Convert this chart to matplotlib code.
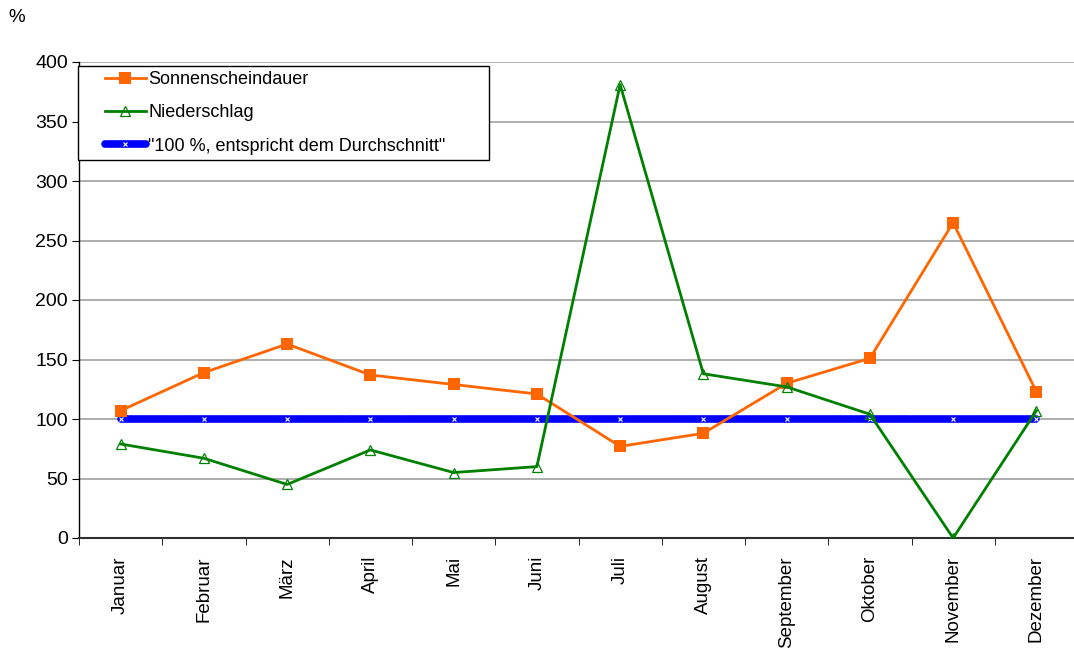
import numpy as np
import matplotlib.pyplot as plt
from matplotlib.ticker import FixedLocator
from matplotlib.legend_handler import HandlerLine2D

plt.rcParams['font.family'] = ['Liberation Sans', 'DejaVu Sans']

# --- Data ---
months = ["Januar", "Februar", "März", "April", "Mai", "Juni", "Juli",
          "August", "September", "Oktober", "November", "Dezember"]
sonne = [107, 139, 163, 137, 129, 121, 77, 88, 130, 151, 265, 123]
niederschlag = [79, 67, 45, 74, 55, 60, 381, 138, 127, 104, 0, 107]
durchschnitt = [100] * 12

x = np.arange(len(months))

# --- Plot ---
fig = plt.figure(figsize=(10.74, 6.49), dpi=100)
ax = fig.add_axes([79 / 1074, 1 - 538 / 649, (1078 - 79) / 1074, (538 - 62) / 649])

ax.plot(x, durchschnitt, color='#0000ff', linewidth=5.5, linestyle=(0, (7, 0.4)),
        marker='x', markersize=2.5, markeredgecolor='white', markeredgewidth=0.8,
        solid_capstyle='butt', dash_capstyle='round', zorder=3,
        label='"100 %, entspricht dem Durchschnitt"')
ax.plot(x, sonne, color='#ff6600', linewidth=2, marker='s', markersize=8,
        markeredgewidth=0, zorder=4, label="Sonnenscheindauer")
ax.plot(x, niederschlag, color='#008000', linewidth=2, marker='^', markersize=6.5,
        markerfacecolor='none', markeredgecolor='#008000', markeredgewidth=0.9,
        zorder=4, label="Niederschlag")

# Axes and grid
ax.set_xlim(-0.5, len(months) - 0.5)
ax.set_ylim(0, 400)
ax.set_yticks(np.arange(0, 401, 50))
ax.yaxis.grid(True, color='#a0a0a0', linewidth=1.2)
ax.set_axisbelow(True)

ax.set_xticks(x)
ax.set_xticklabels(months, rotation=90, fontsize=13.5)
ax.xaxis.set_minor_locator(FixedLocator(np.arange(-0.5, len(months), 1)))
ax.tick_params(axis='x', which='major', length=0, pad=13)
ax.tick_params(axis='x', which='minor', length=5, direction='out', color='black')
ax.tick_params(axis='y', labelsize=14, length=5, direction='out', pad=3)

for side in ['top', 'right']:
    ax.spines[side].set_visible(False)
ax.spines['left'].set_linewidth(1)
ax.spines['bottom'].set_linewidth(1.5)
ax.spines['bottom'].set_color('#303030')

fig.text(8 / 1074, 1 - 18 / 649, "%", fontsize=13.5, va='center')

# Legend, framed box stretched to a fixed width
handles, labels = ax.get_legend_handles_labels()
order = [1, 2, 0]
leg = ax.legend([handles[i] for i in order], [labels[i] for i in order],
                loc='upper left', mode='expand',
                bbox_to_anchor=(-0.001, 0.992 - 0.2, 411 / 999, 0.2), fontsize=13,
                frameon=True, fancybox=False, edgecolor='black', framealpha=1,
                borderpad=0.3, labelspacing=0.9, handlelength=3.45,
                handletextpad=0.15, borderaxespad=0,
                handler_map={h: HandlerLine2D(xpad=1.2) for h in handles})
leg.get_frame().set_linewidth(1)

plt.savefig("out.png", dpi=100)
